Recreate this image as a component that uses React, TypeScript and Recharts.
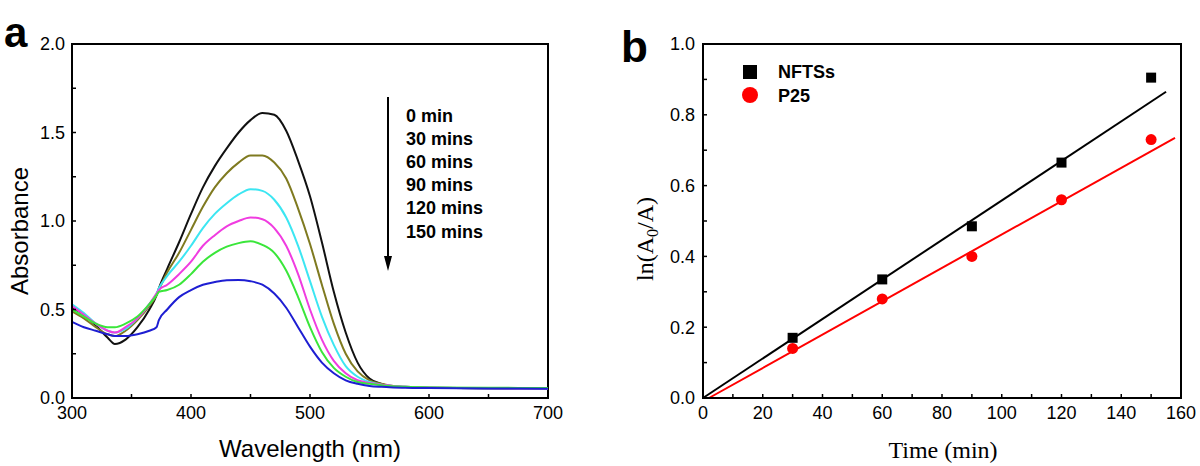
import React from "react"
import {
  LineChart,
  Line,
  ComposedChart,
  Scatter,
  XAxis,
  YAxis,
  ReferenceArea,
} from "recharts"

// panel a: UV-vis spectra
const WAVELENGTH = [300, 310, 320, 330, 336, 345, 355, 365, 371, 373, 380, 390, 400, 410, 420, 430, 440, 450, 460, 470, 480, 490, 500, 510, 520, 530, 540, 550, 560, 570, 580, 600, 650, 700]
const ABS_0 = [0.51, 0.47, 0.41, 0.34, 0.305, 0.33, 0.4, 0.5, 0.58, 0.62, 0.73, 0.88, 1.04, 1.19, 1.31, 1.41, 1.5, 1.57, 1.61, 1.6, 1.51, 1.34, 1.14, 0.88, 0.6, 0.37, 0.2, 0.11, 0.08, 0.065, 0.062, 0.058, 0.055, 0.052]
const ABS_30 = [0.49, 0.45, 0.4, 0.36, 0.35, 0.38, 0.44, 0.52, 0.58, 0.61, 0.71, 0.82, 0.95, 1.08, 1.19, 1.27, 1.33, 1.37, 1.37, 1.33, 1.24, 1.07, 0.87, 0.64, 0.42, 0.25, 0.15, 0.1, 0.08, 0.068, 0.063, 0.058, 0.055, 0.053]
const ABS_60 = [0.53, 0.48, 0.42, 0.38, 0.37, 0.39, 0.45, 0.53, 0.59, 0.62, 0.69, 0.77, 0.86, 0.96, 1.04, 1.1, 1.15, 1.18, 1.17, 1.12, 1.02, 0.86, 0.66, 0.46, 0.3, 0.18, 0.12, 0.09, 0.075, 0.068, 0.063, 0.058, 0.055, 0.053]
const ABS_90 = [0.52, 0.47, 0.42, 0.38, 0.37, 0.4, 0.45, 0.53, 0.59, 0.61, 0.64, 0.7, 0.77, 0.86, 0.92, 0.97, 1.0, 1.02, 1.01, 0.96, 0.86, 0.7, 0.5, 0.33, 0.21, 0.14, 0.1, 0.085, 0.075, 0.068, 0.063, 0.058, 0.055, 0.053]
const ABS_120 = [0.5, 0.46, 0.42, 0.4, 0.4, 0.42, 0.46, 0.53, 0.58, 0.6, 0.61, 0.64, 0.7, 0.77, 0.82, 0.855, 0.875, 0.885, 0.865, 0.82, 0.72, 0.57, 0.4, 0.26, 0.17, 0.12, 0.09, 0.08, 0.072, 0.066, 0.063, 0.06, 0.058, 0.056]
const ABS_150 = [0.43, 0.4, 0.38, 0.36, 0.35, 0.35, 0.36, 0.38, 0.4, 0.44, 0.5, 0.57, 0.61, 0.64, 0.655, 0.665, 0.667, 0.66, 0.64, 0.59, 0.51, 0.4, 0.29, 0.2, 0.14, 0.1, 0.08, 0.068, 0.063, 0.06, 0.058, 0.056, 0.054, 0.052]

const TIME_LABELS = ["0 min", "30 mins", "60 mins", "90 mins", "120 mins", "150 mins"]
const SPECTRA = [ABS_0, ABS_30, ABS_60, ABS_90, ABS_120, ABS_150]
const SPECTRA_COLORS = ["#111111", "#7f7a20", "#3ce6f2", "#f03ce0", "#3ae63a", "#1e1ed2"]

const WL_TICKS = [300, 350, 400, 450, 500, 550, 600, 650, 700]
const ABS_TICKS = [0, 0.25, 0.5, 0.75, 1, 1.25, 1.5, 1.75, 2]

// panel b: kinetics
const TIME = [30, 60, 90, 120, 150]
const NFTS = [0.17, 0.335, 0.485, 0.665, 0.905]
const P25 = [0.14, 0.28, 0.4, 0.56, 0.73]
const NFTS_FIT = [{ t: 0, v: 0 }, { t: 155, v: 0.865 }]
const P25_FIT = [{ t: 2, v: 0 }, { t: 158, v: 0.735 }]

const TIME_TICKS = [0, 10, 20, 30, 40, 50, 60, 70, 80, 90, 100, 110, 120, 130, 140, 150, 160]
const LN_TICKS = [0, 0.1, 0.2, 0.3, 0.4, 0.5, 0.6, 0.7, 0.8, 0.9, 1.0]

const SANS = "'Liberation Sans', Arial, sans-serif"
const SERIF = "'Liberation Serif', 'Times New Roman', serif"

const spectraRows = WAVELENGTH.map((wl, i) => {
  const row: Record<string, number> = { wl }
  SPECTRA.forEach((s, k) => (row["s" + k] = s[i]))
  return row
})
const nftsRows = TIME.map((t, i) => ({ t, v: NFTS[i] }))
const p25Rows = TIME.map((t, i) => ({ t, v: P25[i] }))

const tickStyle = { fill: "#000", fontSize: 18, fontFamily: SANS }
const axisLine = { stroke: "#000", strokeWidth: 2 }
const tickLine = { stroke: "#000", strokeWidth: 1.5 }

const SquareDot = (p: any) => <rect x={p.cx - 5} y={p.cy - 5} width={10} height={10} fill="#000" />
const RoundDot = (p: any) => <circle cx={p.cx} cy={p.cy} r={5.5} fill="#ff0000" />

function SpectraChart() {
  return (
    <LineChart width={600} height={466} data={spectraRows} margin={{ top: 44, right: 52, bottom: 38, left: 0 }}>
      <XAxis
        dataKey="wl"
        type="number"
        domain={[300, 700]}
        ticks={WL_TICKS}
        interval={0}
        tickFormatter={(v: number) => (v % 100 === 0 ? String(v) : "")}
        height={30}
        tickSize={-4}
        tickMargin={12}
        tick={tickStyle}
        tickLine={tickLine}
        axisLine={axisLine}
      />
      <YAxis
        type="number"
        domain={[0, 2]}
        ticks={ABS_TICKS}
        interval={0}
        tickFormatter={(v: number) => (Math.round(v * 4) % 2 === 0 ? v.toFixed(1) : "")}
        width={72}
        tickSize={-4}
        tickMargin={11}
        tick={tickStyle}
        tickLine={tickLine}
        axisLine={axisLine}
      />
      <ReferenceArea x1={300} x2={700} y1={0} y2={2} fill="none" stroke="#000" strokeWidth={2} />
      {SPECTRA.map((_, k) => (
        <Line
          key={k}
          dataKey={"s" + k}
          type="monotone"
          stroke={SPECTRA_COLORS[k]}
          strokeWidth={2}
          dot={false}
          isAnimationActive={false}
        />
      ))}
    </LineChart>
  )
}

function KineticsChart() {
  return (
    <ComposedChart width={600} height={466} margin={{ top: 44, right: 19, bottom: 38, left: 0 }}>
      <XAxis
        dataKey="t"
        type="number"
        domain={[0, 160]}
        ticks={TIME_TICKS}
        interval={0}
        tickFormatter={(v: number) => (v % 20 === 0 ? String(v) : "")}
        height={30}
        tickSize={-4}
        tickMargin={12}
        tick={tickStyle}
        tickLine={tickLine}
        axisLine={axisLine}
        allowDuplicatedCategory={false}
      />
      <YAxis
        dataKey="v"
        type="number"
        domain={[0, 1]}
        ticks={LN_TICKS}
        interval={0}
        tickFormatter={(v: number) => (Math.round(v * 10) % 2 === 0 ? v.toFixed(1) : "")}
        width={103}
        tickSize={-4}
        tickMargin={12}
        tick={tickStyle}
        tickLine={tickLine}
        axisLine={axisLine}
      />
      <ReferenceArea x1={0} x2={160} y1={0} y2={1} fill="none" stroke="#000" strokeWidth={2} />
      <Line data={NFTS_FIT} dataKey="v" stroke="#000" strokeWidth={2} dot={false} isAnimationActive={false} />
      <Line data={P25_FIT} dataKey="v" stroke="#ff0000" strokeWidth={2} dot={false} isAnimationActive={false} />
      <Scatter data={nftsRows} dataKey="v" shape={SquareDot} isAnimationActive={false} />
      <Scatter data={p25Rows} dataKey="v" shape={RoundDot} isAnimationActive={false} />
    </ComposedChart>
  )
}

function Annotations() {
  return (
    <svg width={1200} height={466} style={{ position: "absolute", left: 0, top: 0, pointerEvents: "none" }}>
      {/* panel a */}
      <text x={4} y={47} fontFamily={SANS} fontWeight="bold" fontSize={42}>a</text>
      <text transform="translate(28,231) rotate(-90)" textAnchor="middle" fontFamily={SANS} fontSize={24}>Absorbance</text>
      <text x={310} y={457} textAnchor="middle" fontFamily={SANS} fontSize={24}>Wavelength (nm)</text>
      <line x1={388} y1={97} x2={388} y2={260} stroke="#000" strokeWidth={2} />
      <polygon points="384,256 392,256 388,271" fill="#000" />
      {TIME_LABELS.map((t, i) => (
        <text key={t} x={406} y={121.5 + i * 23.2} fontFamily={SANS} fontWeight="bold" fontSize={18}>{t}</text>
      ))}
      {/* panel b */}
      <text x={621} y={62} fontFamily={SANS} fontWeight="bold" fontSize={44}>b</text>
      <text transform="translate(653,239) rotate(-90)" textAnchor="middle" fontFamily={SERIF} fontSize={24}>
        <tspan>ln(A</tspan>
        <tspan dy={5} fontSize={16}>0</tspan>
        <tspan dy={-5}>/A)</tspan>
      </text>
      <text x={943} y={458} textAnchor="middle" fontFamily={SERIF} fontSize={24}>Time (min)</text>
      <rect x={743} y={65} width={14} height={14} fill="#000" />
      <circle cx={750} cy={95} r={8} fill="#ff0000" />
      <text x={778} y={78} fontFamily={SANS} fontWeight="bold" fontSize={18}>NFTSs</text>
      <text x={778} y={102} fontFamily={SANS} fontWeight="bold" fontSize={18}>P25</text>
    </svg>
  )
}

export default function App() {
  return (
    <div style={{ position: "absolute", left: 0, top: 0, width: 1200, height: 466, background: "#fff" }}>
      <div style={{ position: "absolute", left: 0, top: 0 }}>
        <SpectraChart />
      </div>
      <div style={{ position: "absolute", left: 600, top: 0 }}>
        <KineticsChart />
      </div>
      <Annotations />
    </div>
  )
}
